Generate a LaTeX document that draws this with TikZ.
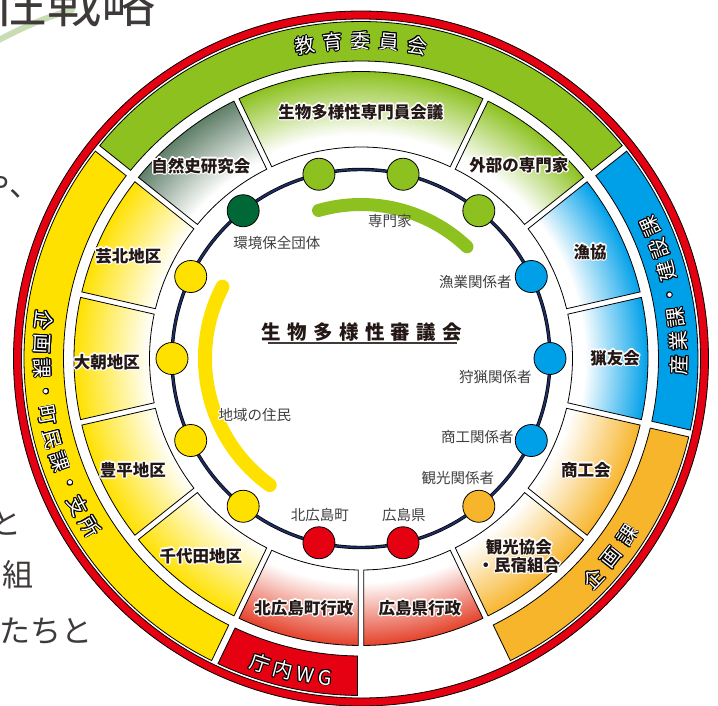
\documentclass[tikz,border=0pt]{standalone}
\usepackage{fontspec}
\setmainfont{Noto Sans CJK JP}

\definecolor{rgreen}{HTML}{8CC11F}
\definecolor{rdkgreen}{HTML}{006837}
\definecolor{rboxgrey}{HTML}{5F7F68}
\definecolor{ryellow}{HTML}{FFE100}
\definecolor{rblue}{HTML}{00A0E9}
\definecolor{rorange}{HTML}{F7B52C}
\definecolor{rred}{HTML}{E50012}
\definecolor{rboxred}{HTML}{E4412A}
\definecolor{rnavy}{HTML}{1F2C62}
\definecolor{rtext}{HTML}{231815}
\definecolor{rgrey}{HTML}{404040}
\definecolor{rswoosh}{HTML}{C9DDB5}
\definecolor{rpage}{HTML}{3E3A39}

\pgfdeclareradialshading{shGreen}{\pgfpointorigin}{color(0bp)=(white);color(19.5bp)=(white);color(25bp)=(rgreen);color(50bp)=(rgreen)}
\pgfdeclareradialshading{shGrey}{\pgfpointorigin}{color(0bp)=(white);color(19.2bp)=(white);color(25bp)=(rboxgrey);color(50bp)=(rboxgrey)}
\pgfdeclareradialshading{shBlue}{\pgfpointorigin}{color(0bp)=(white);color(19.5bp)=(white);color(25bp)=(rblue);color(50bp)=(rblue)}
\pgfdeclareradialshading{shOrange}{\pgfpointorigin}{color(0bp)=(white);color(18.8bp)=(white);color(25bp)=(rorange);color(50bp)=(rorange)}
\pgfdeclareradialshading{shRed}{\pgfpointorigin}{color(0bp)=(white);color(19.5bp)=(white);color(25bp)=(rboxred);color(50bp)=(rboxred)}
\pgfdeclareradialshading{shYellow}{\pgfpointorigin}{color(0bp)=(white);color(18.4bp)=(white);color(25bp)=(ryellow);color(50bp)=(ryellow)}

% node with a halo: [radius]{options}{name}{position}{halo colour}{text}
\newcommand\hnode[6][1.2pt]{%
  \foreach \hang in {0,30,...,330}{%
    \node[#2, text=#5, xshift={#1*cos(\hang)}, yshift={#1*sin(\hang)}] (#3-h\hang) at #4 {#6};
  }%
  \node[#2] (#3) at #4 {#6};
}

\newcommand\secangles[5]{%
  \pgfmathsetmacro\sA{#1+asin(#5/#3)}%
  \pgfmathsetmacro\sB{#1+asin(#5/#4)}%
  \pgfmathsetmacro\eA{#2-asin(#5/#3)}%
  \pgfmathsetmacro\eB{#2-asin(#5/#4)}%
}
\newcommand\shadesector[6]{%
  \secangles{#1}{#2}{#3}{#4}{#5}%
  \begin{scope}
    \clip (\sA:#3) -- (\sB:#4) arc[start angle=\sB, end angle=\eB, radius=#4] -- (\eA:#3) arc[start angle=\eA, end angle=\sA, radius=#3] -- cycle;
    \shade[shading=#6] (0,0) circle (#4);
  \end{scope}
  \draw[outl] (\sA:#3) -- (\sB:#4) arc[start angle=\sB, end angle=\eB, radius=#4] -- (\eA:#3) arc[start angle=\eA, end angle=\sA, radius=#3] -- cycle;
}
\newcommand\fillsector[6]{%
  \secangles{#1}{#2}{#3}{#4}{#5}%
  \filldraw[outl, fill=#6] (\sA:#3) -- (\sB:#4) arc[start angle=\sB, end angle=\eB, radius=#4] -- (\eA:#3) arc[start angle=\eA, end angle=\sA, radius=#3] -- cycle;
}

\begin{document}
\begin{tikzpicture}[x=1pt,y=1pt,
  outl/.style={draw=black, line width=0.8pt},
  boxlabel/.style={font=\fontsize{16.5}{18.5}\selectfont\bfseries, text=rtext, inner sep=0pt, align=center},
  dotlabel/.style={font=\fontsize{14.5}{16}\selectfont, text=rgrey, inner sep=0pt},
  ringchar/.style={font=\fontsize{20}{22}\selectfont, text=white, inner sep=0pt},
  dotnode/.style={circle, draw=black, line width=0.8pt, minimum size=32pt, inner sep=0pt},
  bodytxt/.style={font=\fontsize{31}{33}\selectfont, text=rpage, inner sep=0pt},
  titletxt/.style={font=\fontsize{19.5}{21}\selectfont\bfseries, text=rtext, inner sep=0pt}
]
\useasboundingbox (-361,-346.5) rectangle (357,358.5);
\fill[white] (-361,-346.5) rectangle (357,358.5);
\clip (-361,-346.5) rectangle (357,358.5);

% ---- page fragments (image coordinates)
\begin{scope}[shift={(-361,358.5)}, y=-1pt]
  \draw[rswoosh, line width=6pt, line cap=round] (-5,42) .. controls (18,30) and (42,18) .. (72,10);
  \node[inner sep=0pt, text=rpage, font=\fontsize{54}{56}\selectfont] (head) at (75,2) {性戦略};
  \node[bodytxt] (frag1) at (10,185) {や、};
  \node[bodytxt] (frag2) at (6,523) {と};
  \node[bodytxt] (frag3) at (2.5,575) {を組};
  \node[bodytxt] (frag4) at (46,631) {たちと};
\end{scope}

% ---- outer red ring
\filldraw[outl, fill=rred, even odd rule] (0,0) circle (347.5) (0,0) circle (339.5);

% ---- outer coloured ring segments
\fillsector{38.5714}{141.4286}{297.5}{337}{3.5}{rgreen}
\fillsector{141.4286}{244.2857}{297.5}{337}{3.5}{ryellow}
\fillsector{244.2857}{270}{297.5}{337}{3.5}{rred}
\fillsector{295.7143}{347.1429}{297.5}{337}{3.5}{rorange}
\fillsector{347.1429}{398.5714}{297.5}{337}{3.5}{rblue}

% ---- boxes
\foreach \a/\b/\sh in {64.2857/115.7143/shGreen, 38.5714/64.2857/shGreen,
  12.8571/38.5714/shBlue, -12.8571/12.8571/shBlue,
  -38.5714/-12.8571/shOrange, -64.2857/-38.5714/shOrange,
  -90/-64.2857/shRed, -115.7143/-90/shRed,
  -141.4286/-115.7143/shYellow, -167.1429/-141.4286/shYellow,
  167.1429/192.8571/shYellow, 141.4286/167.1429/shYellow,
  115.7143/141.4286/shGrey}{%
  \shadesector{\a}{\b}{211.5}{287}{2.8}{\sh}}

% ---- ring texts (white with black outline)
\foreach \ch/\ang [count=\i] in {教/100.2, 育/95.1, 委/90, 員/84.9, 会/79.8}{%
  \hnode[0.9pt]{ringchar, rotate=\ang-90}{rtop\i}{(\ang:318)}{black}{\ch}}
\foreach \ch/\ang [count=\i] in {産/-1.2, 業/3.1, 課/7.4, ・/11.6, 建/15.9, 設/20.2, 課/24.5}{%
  \hnode[0.9pt]{ringchar, rotate=\ang+90}{rright\i}{(\ang:318)}{black}{\ch}}
\foreach \ch/\ang [count=\i] in {企/173.1, 画/177.4, 課/181.7, ・/186.0, 町/190.3, 民/194.6, 課/198.9, ・/203.2, 支/207.5, 所/211.8}{%
  \hnode[0.9pt]{ringchar, rotate=\ang+90}{rleft\i}{(\ang:319)}{black}{\ch}}
\foreach \ch/\ang [count=\i] in {企/-43.4, 画/-38.5, 課/-33.6}{%
  \hnode[0.9pt]{ringchar, rotate=\ang+90}{rorg\i}{(\ang:320)}{black}{\ch}}
\foreach \ch/\ang [count=\i] in {庁/-108.3, 内/-104.1, W/-100.0, G/-96.4}{%
  \hnode[0.9pt]{ringchar, rotate=\ang+90}{rwg\i}{(\ang:321)}{black}{\ch}}

% ---- inner coloured arcs
\draw[rgreen, line width=13pt, line cap=round] (106:154) arc[start angle=106, end angle=46.5, radius=154];
\draw[ryellow, line width=14pt, line cap=round] (152.6:156) arc[start angle=152.6, end angle=234.2, radius=156];

% ---- member ring
\draw[black, line width=3.4pt] (0,0) circle (189);
\draw[rnavy, line width=2pt] (0,0) circle (189);
\foreach \k/\c in {0/rblue,1/rblue,2/rgreen,3/rgreen,4/rgreen,5/rdkgreen,6/ryellow,7/ryellow,8/ryellow,9/ryellow,10/rred,11/rred,12/rorange,13/rblue}
  \node[dotnode, fill=\c] (dot\k) at ({\k*360/14}:189) {};

% ---- labels (image coordinates)
\begin{scope}[shift={(-361,358.5)}, y=-1pt]
  \hnode[1.3pt]{boxlabel}{bSenmon}{(361,112)}{white}{生物多様性専門員会議}
  \hnode[1.3pt]{boxlabel}{bGaibu}{(519,165)}{white}{外部の専門家}
  \hnode[1.3pt]{boxlabel}{bShizen}{(201,166)}{white}{自然史研究会}
  \hnode[1.3pt]{boxlabel}{bGeihoku}{(128.5,256)}{white}{芸北地区}
  \hnode[1.3pt]{boxlabel}{bOasa}{(107,362)}{white}{大朝地区}
  \hnode[1.3pt]{boxlabel}{bToyo}{(133,470)}{white}{豊平地区}
  \hnode[1.3pt]{boxlabel}{bChiyo}{(201,556)}{white}{千代田地区}
  \hnode[1.3pt]{boxlabel}{bKitaGyo}{(304,608)}{white}{北広島町行政}
  \hnode[1.3pt]{boxlabel}{bKenGyo}{(420,608)}{white}{広島県行政}
  \hnode[1.3pt]{boxlabel}{bKanko}{(519,556)}{white}{観光協会\\・民宿組合}
  \hnode[1.3pt]{boxlabel}{bShoko}{(586,470)}{white}{商工会}
  \hnode[1.3pt]{boxlabel}{bRyoyu}{(615,358)}{white}{猟友会}
  \hnode[1.3pt]{boxlabel}{bGyokyo}{(590,252)}{white}{漁協}

  \node[dotlabel] (lSenmon) at (390,221) {専門家};
  \node[dotlabel] (lKankyo) at (277,243) {環境保全団体};
  \node[dotlabel] (lGyogyo) at (475.5,282) {漁業関係者};
  \node[dotlabel] (lShuryo) at (495.5,377) {狩猟関係者};
  \node[dotlabel] (lShoko) at (477.5,437) {商工関係者};
  \node[dotlabel] (lKanko) at (458,478) {観光関係者};
  \node[dotlabel] (lKen) at (404,515) {広島県};
  \node[dotlabel] (lKita) at (320,515) {北広島町};
  \hnode[1.2pt]{dotlabel}{lChiiki}{(255,415)}{white}{地域の住民}

  \node[titletxt] (title) at (362,332) {生\kern6.3pt 物\kern6.3pt 多\kern6.3pt 様\kern6.3pt 性\kern6.3pt 審\kern6.3pt 議\kern6.3pt 会};
  \coordinate (ulA) at (268,343);
  \coordinate (ulB) at (457,343);
  \draw[rpage, line width=1.8pt] (ulA) -- (ulB);
\end{scope}
\end{tikzpicture}
\end{document}
